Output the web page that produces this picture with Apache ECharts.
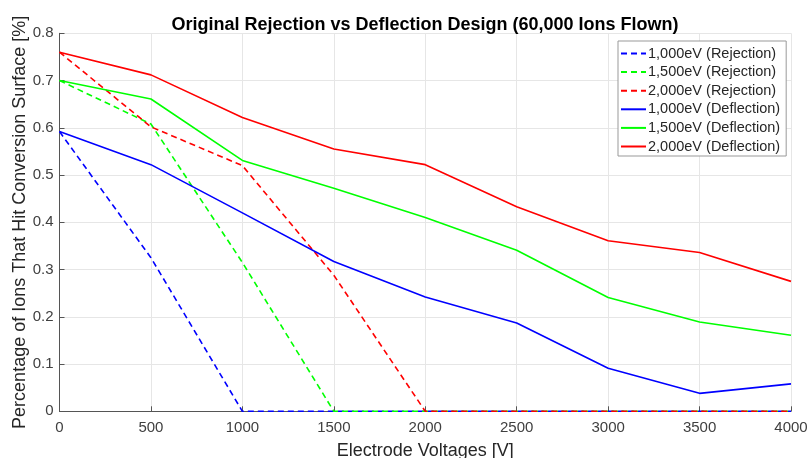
<!DOCTYPE html>
<html>
<head>
<meta charset="utf-8">
<script src="https://cdn.jsdelivr.net/npm/echarts@6/dist/echarts.min.js"></script>
<style>html,body{margin:0;padding:0;background:#fff;}#c{width:810px;height:458px;}</style>
</head>
<body>
<div id="c"></div>
<script>
var voltages = [0, 500, 1000, 1500, 2000, 2500, 3000, 3500, 4000];
var rej1000 = [0.592, 0.325, 0, 0, 0, 0, 0, 0, 0];
var rej1500 = [0.700, 0.608, 0.315, 0, 0, 0, 0, 0, 0];
var rej2000 = [0.760, 0.602, 0.520, 0.288, 0, 0, 0, 0, 0];
var def1000 = [0.592, 0.522, 0.420, 0.317, 0.242, 0.187, 0.091, 0.038, 0.058];
var def1500 = [0.700, 0.661, 0.531, 0.472, 0.410, 0.341, 0.241, 0.189, 0.161];
var def2000 = [0.760, 0.712, 0.622, 0.555, 0.522, 0.433, 0.361, 0.336, 0.275];
var seriesNames = ['1,000eV (Rejection)', '1,500eV (Rejection)', '2,000eV (Rejection)',
                   '1,000eV (Deflection)', '1,500eV (Deflection)', '2,000eV (Deflection)'];
var titleText = 'Original Rejection vs Deflection Design (60,000 Ions Flown)';
var xName = 'Electrode Voltages [V]';
var yName = 'Percentage of Ions That Hit Conversion Surface [%]';

var FONT = '"Liberation Sans", Arial, Helvetica, sans-serif';
function pairs(arr){ return voltages.map(function(v,i){ return [v, arr[i]]; }); }
function mk(name, arr, color, dashed){
  return {
    name: name, type: 'line', data: pairs(arr), symbol: 'none', showSymbol: false,
    animation: false,
    lineStyle: { color: color, width: 1.6, type: dashed ? [6,4] : 'solid' },
    itemStyle: { color: color },
    z: dashed ? 2 : 3
  };
}
var chart = echarts.init(document.getElementById('c'), null, {renderer: 'canvas'});
chart.setOption({
  animation: false,
  backgroundColor: '#ffffff',
  title: {
    text: titleText, left: 420, top: 11, textAlign: 'center',
    textStyle: { fontFamily: FONT, fontSize: 18, fontWeight: 'bold', color: '#000' }
  },
  grid: { left: 59.5, right: 19, top: 33.3, bottom: 46.7, containLabel: false, outerBoundsMode: 'none' },
  legend: {
    orient: 'vertical', left: 618, top: 41,
    data: seriesNames,
    itemWidth: 25, itemHeight: 14, itemGap: 3.6,
    padding: [5, 6, 2, 2],
    borderColor: '#999', borderWidth: 1, backgroundColor: '#fff',
    itemStyle: { opacity: 0 },
    textStyle: { fontFamily: FONT, fontSize: 14.5, lineHeight: 14, color: '#262626', padding: [0,0,0,-3] }
  },
  xAxis: {
    type: 'value', min: 0, max: 4000, interval: 500,
    name: xName, nameLocation: 'middle', nameGap: 31, nameMoveOverlap: false,
    nameTextStyle: { fontFamily: FONT, fontSize: 18, color: '#262626' },
    axisLine: { show: true, onZero: false, lineStyle: { color: '#555', width: 1 } },
    axisTick: { show: true, inside: true, length: 5, lineStyle: { color: '#555' } },
    axisLabel: { fontFamily: FONT, fontSize: 15, color: '#404040', margin: 9,
      formatter: function(v){ return String(v); } },
    splitLine: { show: true, lineStyle: { color: '#e6e6e6', width: 1 } }
  },
  yAxis: {
    type: 'value', min: 0, max: 0.8, interval: 0.1,
    name: yName, nameLocation: 'middle', nameGap: 30, nameMoveOverlap: false,
    nameTextStyle: { fontFamily: FONT, fontSize: 18, color: '#262626' },
    axisLine: { show: true, onZero: false, lineStyle: { color: '#555', width: 1 } },
    axisTick: { show: true, inside: true, length: 5, lineStyle: { color: '#555' } },
    axisLabel: { fontFamily: FONT, fontSize: 15, color: '#404040', margin: 6,
      formatter: function(v){ return v === 0 ? '0' : v.toFixed(1); } },
    splitLine: { show: true, lineStyle: { color: '#e6e6e6', width: 1 } }
  },
  series: [
    mk(seriesNames[0], rej1000, '#0000ff', true),
    mk(seriesNames[1], rej1500, '#00ff00', true),
    mk(seriesNames[2], rej2000, '#ff0000', true),
    mk(seriesNames[3], def1000, '#0000ff', false),
    mk(seriesNames[4], def1500, '#00ff00', false),
    mk(seriesNames[5], def2000, '#ff0000', false)
  ]
});
</script>
</body>
</html>
